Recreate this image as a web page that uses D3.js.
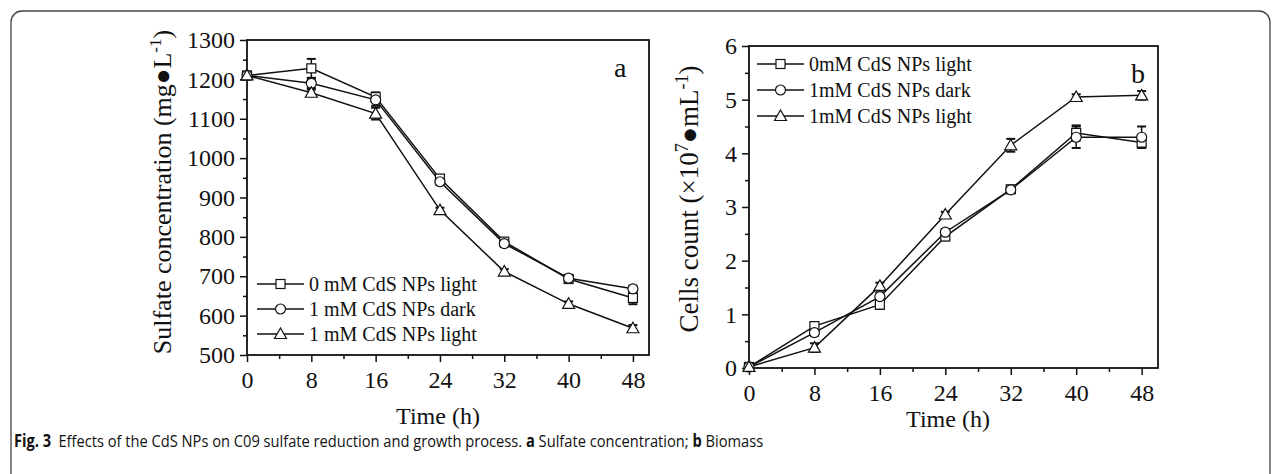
<!DOCTYPE html>
<html><head><meta charset="utf-8">
<script src="https://cdn.jsdelivr.net/npm/d3@7"></script>
<style>
html,body{margin:0;padding:0;background:#fff;}
svg{display:block;}
text{font-family:"Liberation Serif","Times New Roman",serif;fill:#111;}
</style></head>
<body>
<svg id="c" width="1281" height="474"></svg>
<script>
// ---------- data ----------
const times = [0, 8, 16, 24, 32, 40, 48];
const seriesNames = ["0 mM CdS NPs light", "1 mM CdS NPs dark", "1 mM CdS NPs light"];
const seriesNamesB = ["0mM CdS NPs light", "1mM CdS NPs dark", "1mM CdS NPs light"];
const markerTypes = ["square", "circle", "triangle"];

// Panel a: sulfate concentration (mg/L)
const sulfate0Light = [1210, 1228, 1155, 948, 788, 693, 645];
const sulfate1Dark  = [1210, 1190, 1148, 940, 783, 695, 668];
const sulfate1Light = [1210, 1166, 1113, 868, 712, 630, 568];
const sulfateErr0Light = [4, 24, 12, 8, 8, 10, 16];
const sulfateErr1Dark  = [4, 12, 15, 8, 8, 8, 8];
const sulfateErr1Light = [4, 8, 15, 6, 6, 6, 8];

// Panel b: cell counts (x10^7 /mL)
const cells0Light = [0.02, 0.78, 1.18, 2.45, 3.33, 4.38, 4.20];
const cells1Dark  = [0.02, 0.66, 1.33, 2.53, 3.32, 4.30, 4.30];
const cells1Light = [0.02, 0.38, 1.53, 2.86, 4.15, 5.05, 5.08];
const cellsErr0Light = [0.02, 0.07, 0.08, 0.07, 0.06, 0.14, 0.10];
const cellsErr1Dark  = [0.02, 0.06, 0.08, 0.06, 0.06, 0.20, 0.20];
const cellsErr1Light = [0.02, 0.08, 0.06, 0.05, 0.12, 0.05, 0.08];

const xTicks = [0, 8, 16, 24, 32, 40, 48];
const yTicksA = [500, 600, 700, 800, 900, 1000, 1100, 1200, 1300];
const yTicksB = [0, 1, 2, 3, 4, 5, 6];

// ---------- drawing ----------
const svg = d3.select("#c");

// outer frame
svg.append("rect").attr("x", 11).attr("y", 11).attr("width", 1259).attr("height", 520)
  .attr("rx", 11).attr("fill", "none").attr("stroke", "#444").attr("stroke-width", 1.3);

function marker(g, type, x, y) {
  if (type === "square") {
    g.append("rect").attr("x", x - 4.5).attr("y", y - 4.5).attr("width", 9).attr("height", 9)
      .attr("fill", "#fff").attr("stroke", "#111").attr("stroke-width", 1.2);
  } else if (type === "circle") {
    g.append("circle").attr("cx", x).attr("cy", y).attr("r", 5)
      .attr("fill", "#fff").attr("stroke", "#111").attr("stroke-width", 1.2);
  } else {
    g.append("path").attr("d", `M${x},${y - 6}L${x + 6},${y + 4.5}L${x - 6},${y + 4.5}Z`)
      .attr("fill", "#fff").attr("stroke", "#111").attr("stroke-width", 1.2);
  }
}

function panel(cfg) {
  const g = svg.append("g");
  const x = d3.scaleLinear().domain([0, 50]).range([cfg.x0, cfg.x1]);
  const y = d3.scaleLinear().domain(cfg.yDomain).range([cfg.y1, cfg.y0]);

  g.append("rect").attr("x", cfg.x0).attr("y", cfg.y0).attr("width", cfg.x1 - cfg.x0)
    .attr("height", cfg.y1 - cfg.y0).attr("fill", "none").attr("stroke", "#111").attr("stroke-width", 1.8);

  const xMinor = d3.range(4, 50, 8);
  const ax = g.append("g").attr("transform", `translate(0,${cfg.y1})`)
    .call(d3.axisBottom(x).tickValues(xTicks).tickSize(7).tickPadding(9).tickFormat(d3.format("d")));
  const axm = g.append("g").attr("transform", `translate(0,${cfg.y1})`)
    .call(d3.axisBottom(x).tickValues(xMinor).tickSize(4).tickFormat(""));
  const ay = g.append("g").attr("transform", `translate(${cfg.x0},0)`)
    .call(d3.axisLeft(y).tickValues(cfg.yTicks).tickSize(7).tickPadding(5).tickFormat(d3.format("d")));
  const aym = g.append("g").attr("transform", `translate(${cfg.x0},0)`)
    .call(d3.axisLeft(y).tickValues(cfg.yMinor).tickSize(4).tickFormat(""));
  [ax, axm, ay, aym].forEach(a => {
    a.select(".domain").remove();
    a.selectAll("line").attr("stroke", "#111").attr("stroke-width", 1.5);
    a.selectAll("text").attr("font-family", "Liberation Serif").attr("font-size", 24).attr("fill", "#111");
  });

  const line = d3.line().x((d, i) => x(times[i])).y(d => y(d));
  cfg.series.forEach(s => {
    g.append("path").attr("d", line(s.vals)).attr("fill", "none")
      .attr("stroke", "#111").attr("stroke-width", 1.5);
  });
  cfg.series.forEach(s => {
    s.vals.forEach((v, i) => {
      const px = x(times[i]);
      const e = s.err[i];
      const yt = y(v + e), yb = y(v - e);
      if (yb - yt > 2) {
        g.append("line").attr("x1", px).attr("x2", px).attr("y1", yt).attr("y2", yb)
          .attr("stroke", "#111").attr("stroke-width", 1.5);
        [yt, yb].forEach(yy => g.append("line").attr("x1", px - 4.5).attr("x2", px + 4.5)
          .attr("y1", yy).attr("y2", yy).attr("stroke", "#111").attr("stroke-width", 2));
      }
    });
  });
  cfg.series.forEach((s, si) => {
    s.vals.forEach((v, i) => marker(g, markerTypes[si], x(times[i]), y(v)));
  });

  cfg.legend.names.forEach((n, i) => {
    const ly = cfg.legend.y + i * cfg.legend.dy;
    g.append("line").attr("x1", cfg.legend.x).attr("x2", cfg.legend.x + 47)
      .attr("y1", ly).attr("y2", ly).attr("stroke", "#111").attr("stroke-width", 1.5);
    marker(g, markerTypes[i], cfg.legend.x + 23.5, ly);
    g.append("text").attr("x", cfg.legend.x + 52).attr("y", ly + 7)
      .attr("font-size", 20).text(n);
  });

  g.append("text").attr("x", cfg.letter.x).attr("y", cfg.letter.y)
    .attr("font-size", 28).text(cfg.letter.t);

  g.append("text").attr("x", cfg.xt.x).attr("y", cfg.xt.y).attr("text-anchor", "middle")
    .attr("font-size", 24).text("Time (h)");
  return g;
}

// Panel a
panel({
  x0: 247, x1: 649, y0: 40, y1: 355, yDomain: [500, 1300], yTicks: yTicksA,
  yMinor: d3.range(550, 1300, 100),
  series: [
    {vals: sulfate0Light, err: sulfateErr0Light},
    {vals: sulfate1Dark, err: sulfateErr1Dark},
    {vals: sulfate1Light, err: sulfateErr1Light}
  ],
  legend: {x: 257, y: 284, dy: 25, names: seriesNames},
  letter: {x: 614, y: 77, t: "a"},
  xt: {x: 438, y: 424}
});
const ta = svg.append("text").attr("transform", "translate(171,192) rotate(-90)")
  .attr("text-anchor", "middle").attr("font-size", 26);
ta.append("tspan").text("Sulfate concentration (mg\u25CFL");
ta.append("tspan").attr("dy", -10).attr("font-size", 17).text("-1");
ta.append("tspan").attr("dy", 10).text(")");

// Panel b
panel({
  x0: 749, x1: 1158, y0: 46, y1: 368, yDomain: [0, 6], yTicks: yTicksB,
  yMinor: d3.range(0.5, 6, 1),
  series: [
    {vals: cells0Light, err: cellsErr0Light},
    {vals: cells1Dark, err: cellsErr1Dark},
    {vals: cells1Light, err: cellsErr1Light}
  ],
  legend: {x: 757, y: 64, dy: 26, names: seriesNamesB},
  letter: {x: 1131, y: 83, t: "b"},
  xt: {x: 948, y: 427}
});
const tb = svg.append("text").attr("transform", "translate(698,199) rotate(-90)")
  .attr("text-anchor", "middle").attr("font-size", 27);
tb.append("tspan").text("Cells count (\u00D710");
tb.append("tspan").attr("dy", -10).attr("font-size", 18).text("7");
tb.append("tspan").attr("dy", 10).text("\u25CFmL");
tb.append("tspan").attr("dy", -10).attr("font-size", 18).text("-1");
tb.append("tspan").attr("dy", 10).text(")");

// caption: natural width measured, then condensed horizontally to the reference width
const capG = svg.append("g");
const cap = capG.append("text").attr("x", 0).attr("y", 0)
  .attr("font-size", 17).style("font-family", "'Open Sans', sans-serif");
cap.append("tspan").attr("font-weight", "bold").text("Fig. 3");
cap.append("tspan").text("\u2002Effects of the CdS NPs on C09 sulfate reduction and growth process. ");
cap.append("tspan").attr("font-weight", "bold").text("a");
cap.append("tspan").text(" Sulfate concentration; ");
cap.append("tspan").attr("font-weight", "bold").text("b");
cap.append("tspan").text(" Biomass");
const capW = cap.node().getComputedTextLength();
capG.attr("transform", `translate(14,447) scale(${750 / capW},1)`);
</script>
</body></html>
